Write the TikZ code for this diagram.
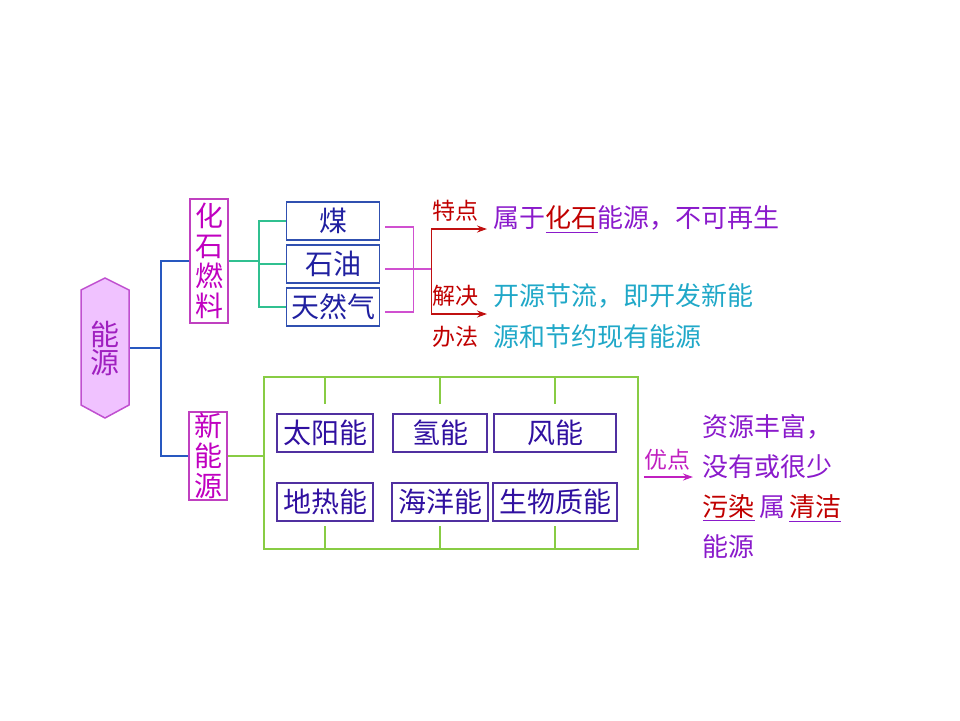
\documentclass[tikz,border=0pt]{standalone}
\usepackage{fontspec}
\newfontfamily\cjk{Noto Sans CJK SC}
\usetikzlibrary{arrows.meta}
\definecolor{hexfill}{HTML}{F0C2FF}
\definecolor{hexline}{HTML}{C050D0}
\definecolor{hextext}{HTML}{A020C0}
\definecolor{catline}{HTML}{C040C0}
\definecolor{cattext}{HTML}{C000C0}
\definecolor{fuelline}{HTML}{3050B0}
\definecolor{fueltext}{HTML}{2020A0}
\definecolor{newline}{HTML}{5030A0}
\definecolor{newtext}{HTML}{3010A0}
\definecolor{blueline}{HTML}{2858C0}
\definecolor{tealline}{HTML}{30C090}
\definecolor{magline}{HTML}{D050D0}
\definecolor{redline}{HTML}{C01010}
\definecolor{tagred}{HTML}{C00000}
\definecolor{descviolet}{HTML}{8A1ACB}
\definecolor{tealtext}{HTML}{20A8C8}
\definecolor{greenline}{HTML}{88CC44}
\definecolor{ydmag}{HTML}{C020C0}
\newcommand\hl[1]{\leavevmode\rlap{\textcolor{tagred}{#1}}\textcolor{descviolet}{\underline{\phantom{#1}}}}
\begin{document}
\begin{tikzpicture}[x=0.5pt,y=-0.5pt,line width=.75pt,
  cat/.style={draw=catline,text=cattext,inner sep=0pt,minimum width=19pt,align=center,font=\cjk\fontsize{14}{15}\selectfont},
  fuel/.style={draw=fuelline,text=fueltext,inner sep=0pt,minimum width=46.5pt,minimum height=19pt,font=\cjk\fontsize{14}{16}\selectfont},
  newe/.style={draw=newline,text=newtext,inner sep=0pt,minimum height=19pt,font=\cjk\fontsize{14}{16}\selectfont},
  tag/.style={text=tagred,inner sep=0pt,align=center,font=\cjk\fontsize{11.5}{20.5}\selectfont},
  desc/.style={inner sep=0pt,anchor=west,align=left,font=\cjk\fontsize{13}{20.5}\selectfont},
  tip/.style={-{Stealth[length=5pt,width=3.5pt]}}]
\useasboundingbox (0,0) rectangle (960,720);
% energy sources
\filldraw[fill=hexfill,draw=hexline] (105,278) -- (129,290) -- (129,405) -- (105,418) -- (81,405) -- (81,290) -- cycle;
\node[text=hextext,align=center,inner sep=0pt,minimum width=24pt,minimum height=70pt,font=\cjk\fontsize{14.5}{14}\selectfont] (ny) at (105,348) {能\\源};
\node[cat,minimum height=62pt] (hs) at (209,261) {化\\石\\燃\\料};
\node[cat,minimum height=44pt] (xn) at (208,456) {新\\能\\源};
\coordinate (f1) at ([xshift=15.5pt]ny.east);
\draw[blueline] (ny.east) -- (f1) (hs.west) -| (f1) (xn.west) -| (f1);
% fossil fuels
\node[fuel] (mei) at (333,221) {煤};
\node[fuel] (sy) at (333,264) {石油};
\node[fuel] (trq) at (333,307) {天然气};
\coordinate (f2) at ([xshift=15pt]hs.east);
\draw[tealline] (hs.east) -- (f2) (mei.west) -| (f2) (trq.west) -| (f2) (sy.west) -- (sy.west -| f2);
\coordinate (f3) at ([shift={(33,5)}]sy.east);
\coordinate (f4) at ([xshift=9pt]f3);
\draw[magline] ([shift={(5,6)}]mei.east) -| (f3) ([shift={(5,5)}]trq.east) -| (f3) ([shift={(5,5)}]sy.east) -- (f4);
\coordinate (tdend) at (487,229);
\coordinate (jjend) at (487,314);
\draw[redline,tip] (f4) |- (tdend);
\draw[redline,tip] (f4) |- (jjend);
\node[tag] (td) at (455,211) {特点};
\node[tag] (jj) at (455,316) {解决\\办法};
\node[desc,text=descviolet] (tdtext) at (493,220) {属于\hl{化石}能源，不可再生};
\node[desc,text=tealtext] (jjtext) at (493,316) {开源节流，即开发新能\\源和节约现有能源};
% new energy
\node[draw=greenline,inner sep=0pt,minimum width=187pt,minimum height=86pt] (gr) at (451,463) {};
\node[newe,minimum width=48pt] (ty) at (325,433) {太阳能};
\node[newe,minimum width=47pt] (qn) at (440,433) {氢能};
\node[newe,minimum width=61pt] (fn) at (555,433) {风能};
\node[newe,minimum width=48pt] (dr) at (325,502) {地热能};
\node[newe,minimum width=48pt] (hy) at (440,502) {海洋能};
\node[newe,minimum width=62pt] (sw) at (555,502) {生物质能};
\foreach \b in {ty,qn,fn} \draw[greenline] (\b.north |- gr.north) -- ++(0,28);
\foreach \b in {dr,hy,sw} \draw[greenline] (\b.south |- gr.south) -- ++(0,-24);
\draw[greenline] (xn.east) -- (xn.east -| gr.west);
\coordinate (ydend) at (693,477);
\draw[ydmag,tip] ([shift={(5,14)}]gr.east) -- (ydend);
\node[tag,text=ydmag] (yd) at (667,460) {优点};
\node[desc,text=descviolet,font=\cjk\fontsize{13}{20}\selectfont] (ydtext) at (702,486) {资源丰富，\\没有或很少\\\hl{污染}\,属\,\hl{清洁}\\能源};
\end{tikzpicture}
\end{document}
